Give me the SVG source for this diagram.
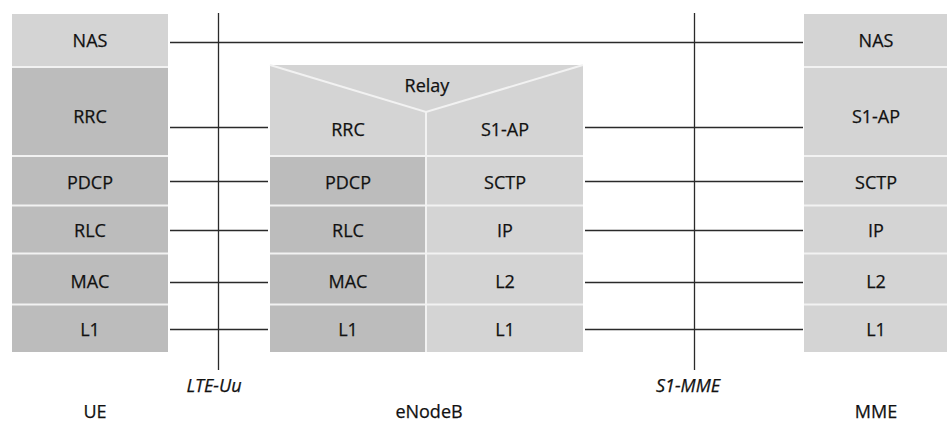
<svg xmlns="http://www.w3.org/2000/svg" width="947" height="423" viewBox="0 0 947 423">
<style>
.l{fill:#d4d4d4}
.d{fill:#bcbcbc}
.sep{stroke:#f2f2f2;stroke-width:2}
.t{font-family:"Open Sans","Liberation Sans",sans-serif;font-size:18px;fill:#111;text-anchor:middle;stroke:#111;stroke-width:0.25}
.i{font-style:italic}
.c line{stroke:#2a2a2a;stroke-width:1.3}
</style>
<rect width="947" height="423" fill="#fff"/>
<g id="UE">
<rect class="l" x="12" y="14" width="156" height="53"/>
<rect class="d" x="12" y="67" width="156" height="285"/>
<line class="sep" x1="12" y1="67" x2="168" y2="67"/>
<line class="sep" x1="12" y1="156" x2="168" y2="156"/>
<line class="sep" x1="12" y1="205.5" x2="168" y2="205.5"/>
<line class="sep" x1="12" y1="253.5" x2="168" y2="253.5"/>
<line class="sep" x1="12" y1="304.5" x2="168" y2="304.5"/>
<text class="t" x="90" y="47">NAS</text>
<text class="t" x="90" y="123">RRC</text>
<text class="t" x="90" y="189">PDCP</text>
<text class="t" x="90" y="237">RLC</text>
<text class="t" x="90" y="288">MAC</text>
<text class="t" x="90" y="336">L1</text>
<text class="t" x="95" y="418">UE</text>
</g>
<g id="eNodeB">
<rect class="l" x="270" y="65" width="313" height="287"/>
<rect class="d" x="270" y="156" width="156" height="196"/>
<polyline points="270,65 426,112 583,65" fill="none" stroke="#f2f2f2" stroke-width="2"/>
<line class="sep" x1="426" y1="112" x2="426" y2="352"/>
<line class="sep" x1="270" y1="156" x2="583" y2="156"/>
<line class="sep" x1="270" y1="205.5" x2="583" y2="205.5"/>
<line class="sep" x1="270" y1="253.5" x2="583" y2="253.5"/>
<line class="sep" x1="270" y1="304.5" x2="583" y2="304.5"/>
<text class="t" x="427" y="92">Relay</text>
<text class="t" x="348" y="136">RRC</text>
<text class="t" x="505" y="136">S1-AP</text>
<text class="t" x="348" y="189">PDCP</text>
<text class="t" x="505" y="189">SCTP</text>
<text class="t" x="348" y="237">RLC</text>
<text class="t" x="505" y="237">IP</text>
<text class="t" x="348" y="288">MAC</text>
<text class="t" x="505" y="288">L2</text>
<text class="t" x="348" y="336">L1</text>
<text class="t" x="505" y="336">L1</text>
<text class="t" x="429" y="418">eNodeB</text>
</g>
<g id="MME">
<rect class="l" x="804" y="14" width="143" height="338"/>
<line class="sep" x1="804" y1="67" x2="947" y2="67"/>
<line class="sep" x1="804" y1="156" x2="947" y2="156"/>
<line class="sep" x1="804" y1="205.5" x2="947" y2="205.5"/>
<line class="sep" x1="804" y1="253.5" x2="947" y2="253.5"/>
<line class="sep" x1="804" y1="304.5" x2="947" y2="304.5"/>
<text class="t" x="876" y="47">NAS</text>
<text class="t" x="876" y="123">S1-AP</text>
<text class="t" x="876" y="189">SCTP</text>
<text class="t" x="876" y="237">IP</text>
<text class="t" x="876" y="288">L2</text>
<text class="t" x="876" y="336">L1</text>
<text class="t" x="876" y="418">MME</text>
</g>
<g id="connectors" class="c">
<line x1="218.5" y1="13" x2="218.5" y2="370"/>
<line x1="694.5" y1="13" x2="694.5" y2="370"/>
<line x1="170" y1="42.5" x2="803" y2="42.5"/>
<line x1="170" y1="127.5" x2="268" y2="127.5"/>
<line x1="585" y1="127.5" x2="803" y2="127.5"/>
<line x1="170" y1="181.5" x2="268" y2="181.5"/>
<line x1="585" y1="181.5" x2="803" y2="181.5"/>
<line x1="170" y1="230.5" x2="268" y2="230.5"/>
<line x1="585" y1="230.5" x2="803" y2="230.5"/>
<line x1="170" y1="282.5" x2="268" y2="282.5"/>
<line x1="585" y1="282.5" x2="803" y2="282.5"/>
<line x1="170" y1="329.5" x2="268" y2="329.5"/>
<line x1="585" y1="329.5" x2="803" y2="329.5"/>
</g>
<g id="interfaces">
<text class="t i" x="214" y="392">LTE-Uu</text>
<text class="t i" x="688" y="392">S1-MME</text>
</g>
</svg>
